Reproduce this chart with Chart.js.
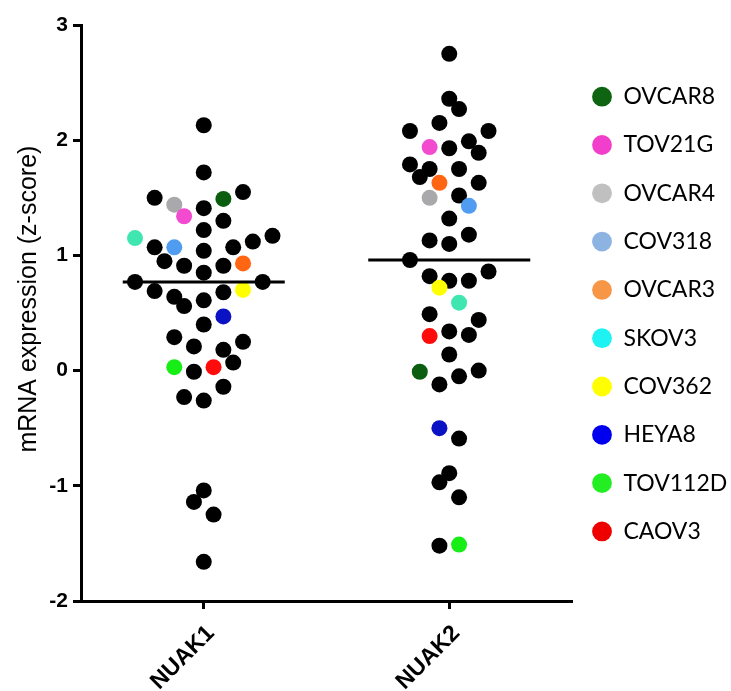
<!DOCTYPE html>
<html>
<head>
<meta charset="utf-8">
<title>NUAK1 / NUAK2 mRNA expression</title>
<script src="https://cdn.jsdelivr.net/npm/chart.js@4.4.1/dist/chart.umd.min.js"></script>
<style>
  html, body { margin: 0; padding: 0; background: #fff; }
  #box { width: 731px; height: 691px; }
</style>
</head>
<body>
<div id="box"><canvas id="graf1"></canvas></div>
<script>
var genes = ['NUAK1', 'NUAK2'];
var cellLines = ['OVCAR8', 'TOV21G', 'OVCAR4', 'COV318', 'OVCAR3', 'SKOV3', 'COV362', 'HEYA8', 'TOV112D', 'CAOV3'];
var yTicks = [-2, -1, 0, 1, 2, 3];

// z-scores per cell line, the swarm column each dot sits in, and the named line ('' = black dot)
var nuak1Values = [
  2.13, 1.72, 1.50, 1.44, 1.49, 1.55, 1.34, 1.41, 1.30, 1.15,
  1.07, 1.07, 1.22, 1.04, 1.07, 1.12, 1.17, 0.95, 0.91, 0.85,
  0.91, 0.93, 0.77, 0.77, 0.69, 0.64, 0.56, 0.61, 0.68, 0.70,
  0.47, 0.40, 0.29, 0.21, 0.18, 0.25, 0.03, -0.01, 0.03, 0.07,
  -0.14, -0.23, -0.26, -1.04, -1.14, -1.25, -1.66
];
var nuak1Swarm = [
  0, 0, -5, -3, 2, 4, -2, 0, 2, -7,
  -5, -3, 0, 0, 3, 5, 7, -4, -2, 0,
  2, 4, -7, 6, -5, -3, -2, 0, 2, 4,
  2, 0, -3, -1, 2, 4, -3, -1, 1, 3,
  2, -2, 0, 0, -1, 1, 0
];
var nuak1Lines = [
  '', '', '', 'OVCAR4', 'OVCAR8', '', 'TOV21G', '', '', 'SKOV3',
  '', 'COV318', '', '', '', '', '', '', '', '',
  '', 'OVCAR3', '', '', '', '', '', '', '', 'COV362',
  'HEYA8', '', '', '', '', '', 'TOV112D', '', 'CAOV3', '',
  '', '', '', '', '', '', ''
];

var nuak2Values = [
  2.75, 2.36, 2.27, 2.15, 2.08, 2.08, 1.94, 1.93, 1.99, 1.89,
  1.79, 1.75, 1.68, 1.75, 1.63, 1.63, 1.50, 1.52, 1.43, 1.32,
  1.13, 1.10, 1.18, 0.96, 0.82, 0.78, 0.78, 0.86, 0.72, 0.59,
  0.49, 0.44, 0.30, 0.34, 0.31, 0.14, -0.01, -0.12, -0.05, 0.00,
  -0.50, -0.59, -0.89, -0.97, -1.10, -1.52, -1.51
];
var nuak2Swarm = [
  0, 0, 1, -1, -4, 4, -2, 0, 2, 3,
  -4, -2, -3, 1, -1, 3, -2, 1, 2, 0,
  -2, 0, 2, -4, -2, 0, 2, 4, -1, 1,
  -2, 3, -2, 0, 2, 0, -3, -1, 1, 3,
  -1, 1, 0, -1, 1, -1, 1
];
var nuak2Lines = [
  '', '', '', '', '', '', 'TOV21G', '', '', '',
  '', '', '', '', 'OVCAR3', '', 'OVCAR4', '', 'COV318', '',
  '', '', '', '', '', '', '', '', 'COV362', 'SKOV3',
  '', '', 'CAOV3', '', '', '', 'OVCAR8', '', '', '',
  'HEYA8', '', '', '', '', '', 'TOV112D'
];

// dot colours in the plot and the (slightly different) legend swatches
var dotColors = ['#0b5e0f', '#f24bcf', '#a9a9ab', '#4f9cf0', '#ff6512', '#40e6b0', '#ffff00', '#0a12c4', '#16ee16', '#ff0b0b'];
var legendColors = ['#0e6410', '#f23fcb', '#c0c0c0', '#8db3e2', '#f79646', '#1ef2f2', '#ffff00', '#0000ee', '#22ee22', '#ee0000'];

var slotWidth = 0.04;
var halfBar = 0.33;

function swarm(values, slots, g) {
  return values.map(function(v, i) {
    return { x: g + slots[i] * slotWidth, y: v };
  });
}

function dotColor(lines) {
  return lines.map(function(l) {
    return l ? dotColors[cellLines.indexOf(l)] : '#000000';
  });
}

function median(values) {
  var s = values.slice().sort(function(a, b) { return a - b; });
  var m = Math.floor(s.length / 2);
  return s.length % 2 ? s[m] : (s[m - 1] + s[m]) / 2;
}

function medianLine(values, g) {
  var m = median(values);
  return {
    type: 'line',
    data: [{ x: g - halfBar, y: m }, { x: g + halfBar, y: m }],
    borderColor: '#000',
    borderWidth: 3,
    pointRadius: 0,
    order: 0
  };
}

var datasets = [
  medianLine(nuak1Values, 1),
  medianLine(nuak2Values, 2),
  {
    label: genes[0],
    data: swarm(nuak1Values, nuak1Swarm, 1),
    pointBackgroundColor: dotColor(nuak1Lines),
    pointBorderWidth: 0,
    pointRadius: 8,
    order: 1
  },
  {
    label: genes[1],
    data: swarm(nuak2Values, nuak2Swarm, 2),
    pointBackgroundColor: dotColor(nuak2Lines),
    pointBorderWidth: 0,
    pointRadius: 8,
    order: 1
  }
];

var g1 = document.getElementById('graf1');

var chart = new Chart(g1, {
  type: 'scatter',
  data: { datasets: datasets },
  options: {
    responsive: true,
    maintainAspectRatio: false,
    animation: false,
    events: [],
    layout: { padding: { top: 25, left: 0, right: 0, bottom: 0 } },
    plugins: {
      tooltip: { enabled: false },
      legend: {
        position: 'right',
        align: 'center',
        fullSize: false,
        maxWidth: 159,
        title: { display: true, text: '', padding: 0, font: { size: 6, lineHeight: 1.22 } },
        labels: {
          usePointStyle: true,
          boxHeight: 14,
          pointStyleWidth: 19.8,
          padding: 20.1,
          color: '#000',
          font: { family: 'Lato', size: 23, lineHeight: 1.226 },
          generateLabels: function() {
            return cellLines.map(function(name, i) {
              return {
                text: [name],
                fillStyle: legendColors[i],
                strokeStyle: legendColors[i],
                fontColor: '#000',
                lineWidth: 0,
                pointStyle: 'circle',
                hidden: false
              };
            });
          }
        }
      }
    },
    scales: {
      x: {
        type: 'linear',
        min: 0.5,
        max: 2.5,
        afterBuildTicks: function(s) {
          s.ticks = genes.map(function(g, i) { return { value: i + 1 }; });
        },
        afterFit: function(s) { s.height = 90; },
        grid: { drawOnChartArea: false, tickLength: 8, tickWidth: 3, tickColor: '#000' },
        border: { color: '#000', width: 3 },
        ticks: {
          autoSkip: false,
          minRotation: 45,
          maxRotation: 45,
          padding: 11,
          labelOffset: 7,
          color: '#000',
          font: { family: 'Liberation Sans', size: 23, weight: 'bold' },
          callback: function(v) { return genes[v - 1]; }
        }
      },
      y: {
        min: -2,
        max: 3,
        afterBuildTicks: function(s) {
          s.ticks = yTicks.map(function(t) { return { value: t }; });
        },
        afterFit: function(s) { s.width = 81; },
        grid: { drawOnChartArea: false, tickLength: 8, tickWidth: 3, tickColor: '#000' },
        border: { color: '#000', width: 3 },
        ticks: {
          padding: 5,
          color: '#000',
          font: { family: 'Liberation Sans', size: 21, weight: 'bold' }
        },
        title: {
          display: true,
          text: '    mRNA expression (z-score)',
          color: '#000',
          font: { family: 'Liberation Sans', size: 25 },
          padding: { top: 14, bottom: 0 }
        }
      }
    }
  }
});
</script>
</body>
</html>
